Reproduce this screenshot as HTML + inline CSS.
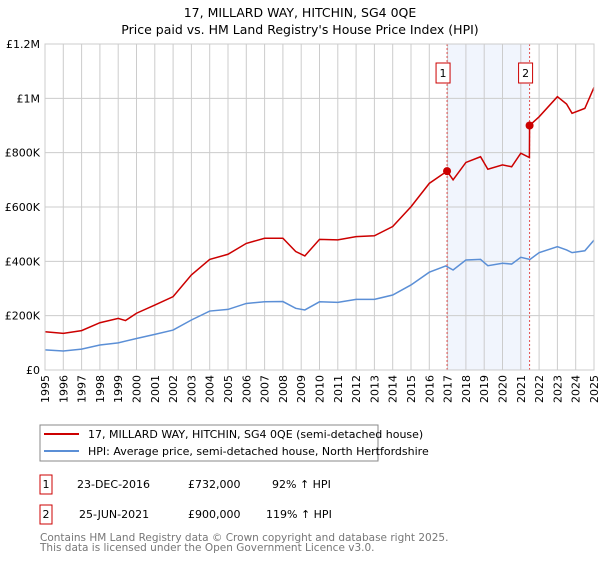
<!DOCTYPE html>
<html><head><meta charset="utf-8"><style>
body{margin:0;background:#fff;font-family:"DejaVu Sans","Liberation Sans",sans-serif}
svg text{font-family:"DejaVu Sans","Liberation Sans",sans-serif}
</style></head><body>
<svg id="c" width="600" height="560" xmlns="http://www.w3.org/2000/svg">
<text x="300" y="17" text-anchor="middle" font-size="12.5">17, MILLARD WAY, HITCHIN, SG4 0QE</text>
<text x="300" y="34" text-anchor="middle" font-size="12.5">Price paid vs. HM Land Registry's House Price Index (HPI)</text>
<g id="plot"></g>
<g>
<rect x="40" y="425" width="338" height="36" fill="#fff" stroke="#888"/>
<line x1="44" y1="434" x2="79" y2="434" stroke="#cc0000" stroke-width="2"/>
<text x="88" y="438" font-size="11">17, MILLARD WAY, HITCHIN, SG4 0QE (semi-detached house)</text>
<line x1="44" y1="451" x2="79" y2="451" stroke="#5b8fd6" stroke-width="2"/>
<text x="88" y="455" font-size="11">HPI: Average price, semi-detached house, North Hertfordshire</text>
</g>
<g font-size="11">
<rect x="40" y="475" width="12" height="19" fill="none" stroke="#cc0000"/><text x="46" y="488" text-anchor="middle">1</text>
<text x="77" y="488">23-DEC-2016</text><text x="188" y="488">£732,000</text><text x="272" y="488">92% ↑ HPI</text>
<rect x="40" y="505" width="12" height="19" fill="none" stroke="#cc0000"/><text x="46" y="518" text-anchor="middle">2</text>
<text x="79" y="518">25-JUN-2021</text><text x="188" y="518">£900,000</text><text x="266" y="518">119% ↑ HPI</text>
</g>
<text x="40" y="541" font-size="10.5" fill="#777">Contains HM Land Registry data © Crown copyright and database right 2025.</text>
<text x="40" y="551" font-size="10.5" fill="#777">This data is licensed under the Open Government Licence v3.0.</text>
</svg>
<script>
const yTicks=[0,200000,400000,600000,800000,1000000,1200000];
const yTickLabels=["£0","£200K","£400K","£600K","£800K","£1M","£1.2M"];
const years=[1995,1996,1997,1998,1999,2000,2001,2002,2003,2004,2005,2006,2007,2008,2009,2010,2011,2012,2013,2014,2015,2016,2017,2018,2019,2020,2021,2022,2023,2024,2025];
const hpiDates=[1995,1996,1997,1998,1999,2000,2001,2002,2003,2004,2005,2006,2007,2008,2008.7,2009.2,2010,2011,2012,2013,2014,2015,2016,2016.9,2017.3,2018,2018.8,2019.2,2020,2020.5,2021,2021.5,2022,2023,2023.5,2023.8,2024.5,2025];
const hpiValues=[74000,70000,77000,92000,100000,116000,131000,147000,184000,217000,223000,245000,251000,252000,227000,221000,251000,249000,260000,260000,276000,313000,360000,383000,368000,405000,407000,384000,393000,390000,415000,407000,432000,454000,442000,432000,439000,478000];
const priceDates=[1995,1996,1997,1998,1999,1999.4,2000,2001,2002,2003,2004,2005,2006,2007,2008,2008.7,2009.2,2010,2011,2012,2013,2014,2015,2016,2016.97,2017.3,2018,2018.8,2019.2,2020,2020.5,2021,2021.47,2021.48,2022,2023,2023.5,2023.8,2024.5,2025];
const priceValues=[141000,135000,145000,174000,190000,182000,209000,239000,270000,350000,407000,426000,466000,485000,485000,436000,420000,481000,479000,491000,494000,528000,601000,687000,732000,700000,764000,785000,739000,755000,748000,798000,782000,900000,932000,1006000,979000,945000,963000,1040000];
const saleDates=[2016.97,2021.48];
const saleValues=[732000,900000];
const saleLabels=["1","2"];
const X0=45,X1=594,Y0=370,Y1=44;
const xs=d=>X0+(d-1995)/30*(X1-X0);
const ys=v=>Y0-v/1200000*(Y0-Y1);
const NS="http://www.w3.org/2000/svg";
const g=document.getElementById('plot');
function mk(t,a,p){const e=document.createElementNS(NS,t);for(const k in a)e.setAttribute(k,a[k]);(p||g).appendChild(e);return e;}
const sh=mk('rect',{x:xs(saleDates[0]),y:Y1,width:xs(saleDates[1])-xs(saleDates[0]),height:Y0-Y1,fill:'#eef3fc',opacity:0.8});


years.forEach(y=>{const l=mk('line',{x1:xs(y),x2:xs(y),y1:Y1,y2:Y0,stroke:'#ccc'});


const t=mk('text',{x:0,y:0,'font-size':11,'text-anchor':'end',transform:`translate(${xs(y)+4},${Y0+5}) rotate(-90)`});t.textContent=y;

});
yTicks.forEach((v,i)=>{const l=mk('line',{x1:X0,x2:X1,y1:ys(v),y2:ys(v),stroke:'#ccc'});


const t=mk('text',{x:X0-5,y:ys(v)+4,'font-size':11,'text-anchor':'end'});t.textContent=yTickLabels[i];

});
saleDates.forEach((d,i)=>{const l=mk('line',{x1:xs(d),x2:xs(d),y1:Y1,y2:Y0,stroke:'#e05050','stroke-dasharray':'2,2'});


const r=mk('rect',{x:xs(d)-11,y:63,width:14,height:20,fill:'#fff',stroke:'#cc0000'});


const t=mk('text',{x:xs(d)-4,y:77,'font-size':11,'text-anchor':'middle'});t.textContent=saleLabels[i];

});
const hp=mk('polyline',{points:hpiDates.map((d,i)=>xs(d)+','+ys(hpiValues[i])).join(' '),fill:'none',stroke:'#5b8fd6','stroke-width':1.5});


const pp=mk('polyline',{points:priceDates.map((d,i)=>xs(d)+','+ys(priceValues[i])).join(' '),fill:'none',stroke:'#cc0000','stroke-width':1.5});


saleDates.forEach((d,i)=>{const c=mk('circle',{cx:xs(d),cy:ys(saleValues[i]),r:4,fill:'#cc0000'});

});
const ax=mk('rect',{x:X0,y:Y1,width:X1-X0,height:Y0-Y1,fill:'none',stroke:'#ccc'});


</script>
</body></html>
